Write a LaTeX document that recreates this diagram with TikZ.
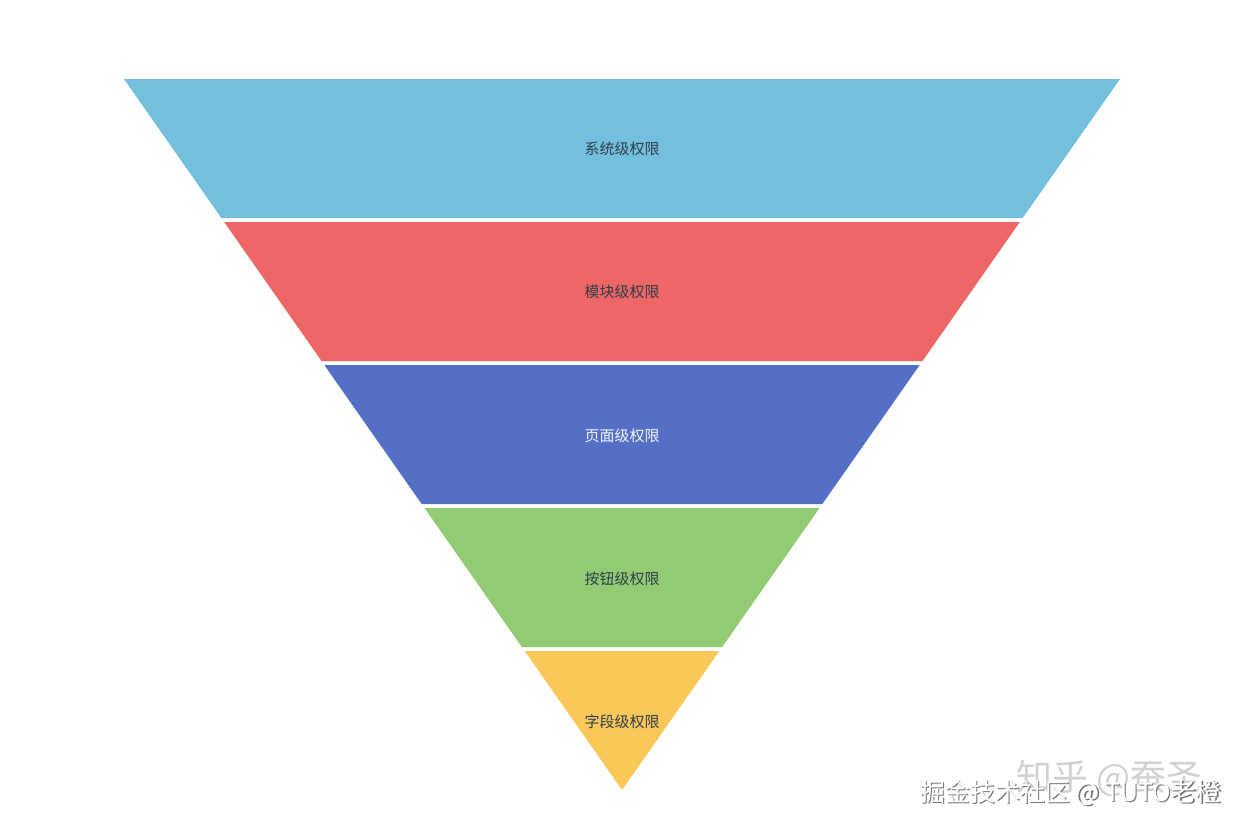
\documentclass[tikz,border=0pt]{standalone}
\usepackage{fontspec}
\newfontfamily\cjk{Noto Sans CJK SC}
\definecolor{c1}{HTML}{73C0DE}
\definecolor{c2}{HTML}{EE6666}
\definecolor{c3}{HTML}{5470C6}
\definecolor{c4}{HTML}{91CC75}
\definecolor{c5}{HTML}{FAC858}
\definecolor{darktxt}{HTML}{2F3E4A}
\begin{document}
\begin{tikzpicture}[x=1pt,y=-1pt,
  lbl/.style={font=\cjk\fontsize{15}{15}\selectfont, text=darktxt, inner sep=0pt},
  wm/.style={font=\cjk\fontsize{25}{25}\selectfont, inner sep=0pt, anchor=west}]
\useasboundingbox (0,0) rectangle (1245,831);
\fill[white] (0,0) rectangle (1245,831);
% half-width at y: 498*(790-y)/711
\def\layer#1#2#3{%
  \pgfmathsetmacro\ha{0.700422*(790-#1)}%
  \pgfmathsetmacro\hb{0.700422*(790-#2)}%
  \fill[#3] (622-\ha,#1) -- (622+\ha,#1) -- (622+\hb,#2) -- (622-\hb,#2) -- cycle;}
\layer{79}{218}{c1}
\layer{222}{361}{c2}
\layer{365}{504}{c3}
\layer{508}{647}{c4}
\layer{651}{790}{c5}
\node[lbl] (l1) at (622,149) {系统级权限};
\node[lbl] (l2) at (622,292) {模块级权限};
\node[lbl, text=white!92!c3] (l3) at (622,436) {页面级权限};
\node[lbl] (l4) at (622,579) {按钮级权限};
\node[lbl] (l5) at (622,722) {字段级权限};
% watermarks
\node[wm, text=black!18, font=\cjk\fontsize{36}{36}\selectfont] (w1) at (1016,778) {知乎 @蚕圣};
\node[wm, text=black!55] (w2s) at (921.5,794.5) {掘金技术社区 @ TUTO老橙};
\node[wm, text=white] (w2) at (920,793) {掘金技术社区 @ TUTO老橙};
\end{tikzpicture}
\end{document}
